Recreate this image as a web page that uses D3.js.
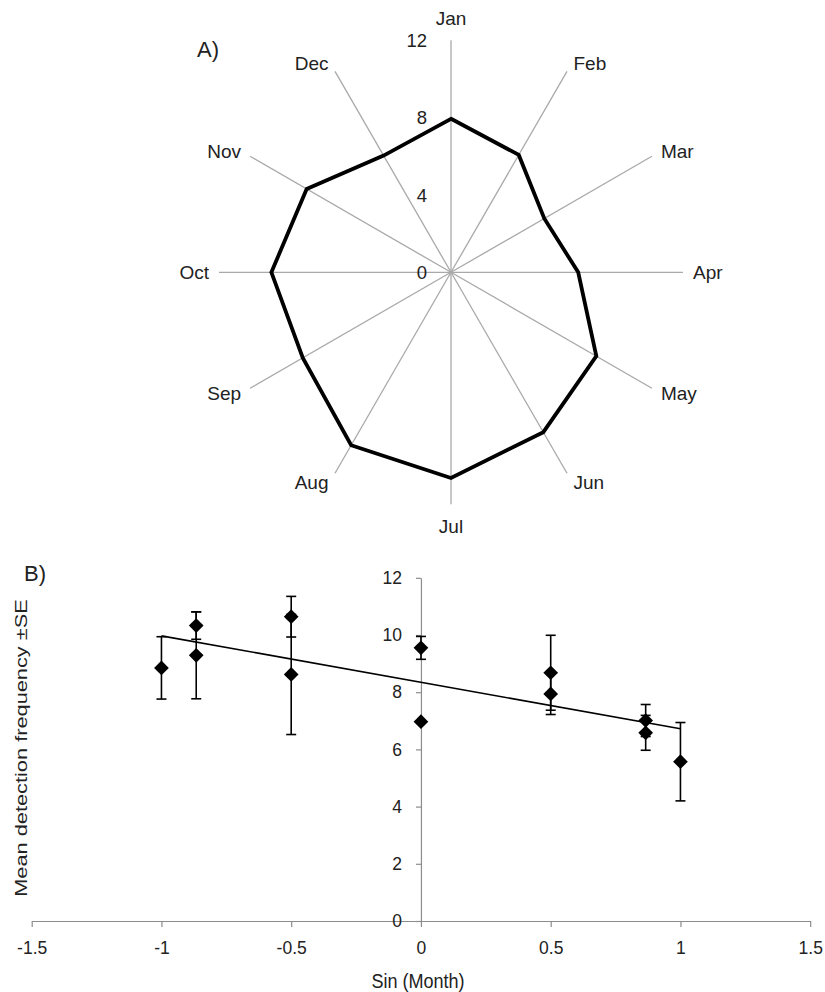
<!DOCTYPE html>
<html>
<head>
<meta charset="utf-8">
<script src="https://cdn.jsdelivr.net/npm/d3@7"></script>
<style>
  html, body { margin: 0; padding: 0; background: #fff; }
  svg { display: block; font-family: "Liberation Sans", Arial, Helvetica, sans-serif; }
</style>
</head>
<body>
<svg id="chart" width="825" height="992"></svg>
<script>
// Monthly mean detection frequency with standard errors
const months = ["Jan", "Feb", "Mar", "Apr", "May", "Jun", "Jul", "Aug", "Sep", "Oct", "Nov", "Dec"];
const meanFreq = [7.94, 7.01, 5.57, 6.58, 8.68, 9.55, 10.64, 10.33, 8.85, 9.29, 8.62, 6.97];
const seFreq = [0.72, 0.56, 1.37, 0.61, 1.31, 0.40, 0.71, 0.48, 1.09, 1.52, 2.10, 0.03];
// Sine of each month's position in the annual cycle
const sinMonth = [0.5, 0.866, 1, 0.866, 0.5, 0, -0.5, -0.866, -1, -0.866, -0.5, 0];

// Axis ticks
const radarTicks = [0, 4, 8, 12];
const xTicks = [-1.5, -1, -0.5, 0, 0.5, 1, 1.5];
const yTicks = [0, 2, 4, 6, 8, 10, 12];

// Linear fit of mean frequency against sin(month)
const trendX = [-1, 1];
const trendY = [9.97, 6.72];

const svg = d3.select("#chart");
const textColor = "#222";

/* ---------- Panel A: radar of monthly means ---------- */
const cx = 451, cy = 272.3, R = 232;
const rScale = d3.scaleLinear().domain([0, 12]).range([0, R]);
const angle = d3.scaleLinear().domain([0, months.length]).range([0, 2 * Math.PI]);

const radar = svg.append("g").attr("transform", `translate(${cx},${cy})`);

// spokes
radar.selectAll("line.spoke")
  .data(months)
  .join("line")
  .attr("class", "spoke")
  .attr("x1", 0).attr("y1", 0)
  .attr("x2", (d, i) => rScale(12) * Math.sin(angle(i)))
  .attr("y2", (d, i) => -rScale(12) * Math.cos(angle(i)))
  .attr("stroke", "#a9a9a9")
  .attr("stroke-width", 1.3);

// radial tick labels
radar.selectAll("text.rtick")
  .data(radarTicks)
  .join("text")
  .attr("class", "rtick")
  .attr("x", -24)
  .attr("y", d => -rScale(d))
  .attr("dy", "0.36em")
  .attr("text-anchor", "end")
  .attr("font-size", 18.5)
  .attr("fill", textColor)
  .text(d => d);

// month labels just beyond each spoke
radar.selectAll("text.month")
  .data(months)
  .join("text")
  .attr("class", "month")
  .each(function (d, i) {
    const a = angle(i);
    const s = Math.sin(a), c = Math.cos(a);
    const ex = rScale(12) * s, ey = -rScale(12) * c;
    const t = d3.select(this);
    if (Math.abs(s) < 0.01) {
      t.attr("x", ex).attr("y", ey - 22 * c).attr("text-anchor", "middle");
    } else {
      const off = 3 + 7 * Math.abs(s);
      t.attr("x", ex + (s > 0 ? off : -off))
       .attr("y", ey - 10 * c)
       .attr("text-anchor", s > 0 ? "start" : "end");
    }
  })
  .attr("dy", "0.36em")
  .attr("font-size", 19)
  .attr("fill", textColor)
  .text(d => d);

// data polygon
const radarLine = d3.lineRadial()
  .angle((d, i) => angle(i))
  .radius(d => rScale(d))
  .curve(d3.curveLinearClosed);

radar.append("path")
  .datum(meanFreq)
  .attr("d", radarLine)
  .attr("fill", "none")
  .attr("stroke", "#000")
  .attr("stroke-width", 3.8)
  .attr("stroke-linejoin", "miter");

svg.append("text")
  .attr("x", 197).attr("y", 57)
  .attr("font-size", 22)
  .attr("fill", textColor)
  .text("A)");

/* ---------- Panel B: mean frequency vs sin(month) ---------- */
const x = d3.scaleLinear().domain([-1.5, 1.5]).range([31.7, 810.2]);
const y = d3.scaleLinear().domain([0, 12]).range([921, 577.8]);

svg.append("text")
  .attr("x", 24).attr("y", 581)
  .attr("font-size", 22)
  .attr("fill", textColor)
  .text("B)");

const fmt = d => String(d);

const xAxis = svg.append("g")
  .attr("transform", `translate(0,${y(0)})`)
  .call(d3.axisBottom(x).tickValues(xTicks).tickFormat(fmt).tickSize(6).tickSizeOuter(0).tickPadding(15));

const yAxis = svg.append("g")
  .attr("transform", `translate(${x(0)},0)`)
  .call(d3.axisLeft(y).tickValues(yTicks).tickFormat(fmt).tickSize(5).tickSizeOuter(0).tickPadding(14));

[xAxis, yAxis].forEach(g => {
  g.select(".domain").attr("stroke", "#8c8c8c").attr("stroke-width", 1.2);
  g.selectAll(".tick line").attr("stroke", "#8c8c8c").attr("stroke-width", 1.2);
  g.selectAll(".tick text")
    .attr("font-family", "\"Liberation Sans\", Arial, sans-serif")
    .attr("font-size", 17.5)
    .attr("fill", textColor);
});

// axis titles
svg.append("text")
  .attr("transform", "translate(418,980) scale(0.95,1.1)")
  .attr("dy", "0.36em")
  .attr("text-anchor", "middle")
  .attr("font-size", 19)
  .attr("fill", textColor)
  .text("Sin (Month)");

svg.append("text")
  .attr("transform", "translate(26.5,748) rotate(-90) scale(1.32,1)")
  .attr("text-anchor", "middle")
  .attr("font-size", 16.5)
  .attr("fill", textColor)
  .text("Mean detection frequency \u00B1SE");

const points = months.map((m, i) => ({ month: m, sx: sinMonth[i], mean: meanFreq[i], se: seFreq[i] }));

// trend line
svg.append("line")
  .attr("x1", x(trendX[0])).attr("y1", y(trendY[0]))
  .attr("x2", x(trendX[1])).attr("y2", y(trendY[1]))
  .attr("stroke", "#000")
  .attr("stroke-width", 1.6);

// error bars
const capHalf = 5;
const bars = svg.append("g").attr("stroke", "#000").attr("stroke-width", 1.6);
bars.selectAll("line.stem")
  .data(points)
  .join("line")
  .attr("class", "stem")
  .attr("x1", d => x(d.sx)).attr("x2", d => x(d.sx))
  .attr("y1", d => y(d.mean - d.se)).attr("y2", d => y(d.mean + d.se));
bars.selectAll("line.capTop")
  .data(points)
  .join("line")
  .attr("class", "capTop")
  .attr("x1", d => x(d.sx) - capHalf).attr("x2", d => x(d.sx) + capHalf)
  .attr("y1", d => y(d.mean + d.se)).attr("y2", d => y(d.mean + d.se));
bars.selectAll("line.capBot")
  .data(points)
  .join("line")
  .attr("class", "capBot")
  .attr("x1", d => x(d.sx) - capHalf).attr("x2", d => x(d.sx) + capHalf)
  .attr("y1", d => y(d.mean - d.se)).attr("y2", d => y(d.mean - d.se));

// diamond markers
const diamond = d3.symbol().type(d3.symbolSquare).size(108);
svg.append("g").selectAll("path")
  .data(points)
  .join("path")
  .attr("d", diamond)
  .attr("transform", d => `translate(${x(d.sx)},${y(d.mean)}) rotate(45)`)
  .attr("fill", "#000");
</script>
</body>
</html>
